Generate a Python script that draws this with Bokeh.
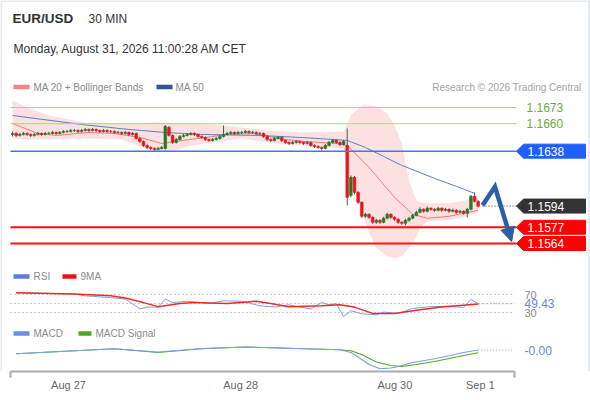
from bokeh.plotting import figure
from bokeh.models import Range1d, LinearAxis, FixedTicker, ColumnDataSource, Arrow, NormalHead, Label
from bokeh.core.properties import value
from bokeh.embed import file_html
from bokeh.resources import INLINE

# ---------------- data ----------------
symbol = "EUR/USD"
interval = "30 MIN"
timestamp = "Monday, August 31, 2026 11:00:28 AM CET"
credit = "Research \u00a9 2026 Trading Central"

opens = [
    1.16514, 1.16522, 1.16506, 1.16514, 1.16522, 1.16514, 1.16506, 1.16514, 1.16522, 1.16514,
    1.16522, 1.16522, 1.16530, 1.16522, 1.16530, 1.16538, 1.16538, 1.16546, 1.16546, 1.16538,
    1.16546, 1.16554, 1.16546, 1.16554, 1.16546, 1.16538, 1.16546, 1.16538, 1.16538, 1.16530,
    1.16530, 1.16522, 1.16530, 1.16514, 1.16522, 1.16482, 1.16458, 1.16426, 1.16410, 1.16402,
    1.16394, 1.16402, 1.16402, 1.16570, 1.16506, 1.16450, 1.16474, 1.16498, 1.16506, 1.16514,
    1.16522, 1.16514, 1.16498, 1.16490, 1.16474, 1.16466, 1.16474, 1.16482, 1.16498, 1.16514,
    1.16522, 1.16530, 1.16522, 1.16530, 1.16530, 1.16538, 1.16530, 1.16530, 1.16522, 1.16522,
    1.16498, 1.16474, 1.16466, 1.16482, 1.16490, 1.16466, 1.16450, 1.16442, 1.16450, 1.16458,
    1.16450, 1.16442, 1.16450, 1.16426, 1.16418, 1.16410, 1.16402, 1.16426, 1.16450, 1.16466,
    1.16450, 1.16434, 1.16426, 1.16026, 1.16170, 1.16050, 1.15970, 1.15858, 1.15874, 1.15850,
    1.15810, 1.15826, 1.15810, 1.15842, 1.15874, 1.15850, 1.15834, 1.15810, 1.15802, 1.15826,
    1.15842, 1.15866, 1.15890, 1.15914, 1.15898, 1.15922, 1.15914, 1.15906, 1.15922, 1.15906,
    1.15914, 1.15898, 1.15906, 1.15890, 1.15898, 1.15882, 1.15914, 1.16018, 1.15978,
]
highs = [
    1.16538, 1.16534, 1.16526, 1.16534, 1.16530, 1.16522, 1.16526, 1.16534, 1.16530, 1.16534,
    1.16534, 1.16542, 1.16538, 1.16542, 1.16550, 1.16550, 1.16558, 1.16558, 1.16554, 1.16558,
    1.16566, 1.16562, 1.16566, 1.16562, 1.16554, 1.16558, 1.16554, 1.16550, 1.16546, 1.16542,
    1.16538, 1.16542, 1.16538, 1.16534, 1.16530, 1.16490, 1.16466, 1.16434, 1.16418, 1.16410,
    1.16414, 1.16422, 1.16590, 1.16582, 1.16514, 1.16486, 1.16510, 1.16518, 1.16526, 1.16534,
    1.16530, 1.16522, 1.16506, 1.16498, 1.16482, 1.16486, 1.16494, 1.16510, 1.16586, 1.16534,
    1.16542, 1.16538, 1.16542, 1.16542, 1.16550, 1.16546, 1.16542, 1.16538, 1.16534, 1.16530,
    1.16506, 1.16482, 1.16494, 1.16502, 1.16498, 1.16474, 1.16458, 1.16462, 1.16470, 1.16466,
    1.16458, 1.16462, 1.16458, 1.16434, 1.16426, 1.16418, 1.16438, 1.16462, 1.16478, 1.16474,
    1.16458, 1.16470, 1.16562, 1.16186, 1.16182, 1.16058, 1.15978, 1.15886, 1.15882, 1.15858,
    1.15838, 1.15834, 1.15854, 1.15886, 1.15882, 1.15858, 1.15842, 1.15818, 1.15838, 1.15854,
    1.15878, 1.15902, 1.15930, 1.15922, 1.15938, 1.15930, 1.15922, 1.15934, 1.15930, 1.15926,
    1.15922, 1.15918, 1.15914, 1.15910, 1.15906, 1.15926, 1.16030, 1.16050, 1.15986,
]
lows = [
    1.16498, 1.16494, 1.16498, 1.16506, 1.16502, 1.16494, 1.16498, 1.16506, 1.16502, 1.16506,
    1.16510, 1.16514, 1.16510, 1.16514, 1.16522, 1.16526, 1.16530, 1.16534, 1.16526, 1.16530,
    1.16538, 1.16534, 1.16538, 1.16534, 1.16526, 1.16530, 1.16526, 1.16526, 1.16518, 1.16518,
    1.16510, 1.16514, 1.16502, 1.16506, 1.16474, 1.16446, 1.16414, 1.16398, 1.16390, 1.16378,
    1.16386, 1.16394, 1.16394, 1.16498, 1.16438, 1.16442, 1.16466, 1.16490, 1.16498, 1.16506,
    1.16502, 1.16486, 1.16478, 1.16462, 1.16454, 1.16458, 1.16466, 1.16474, 1.16490, 1.16506,
    1.16514, 1.16510, 1.16514, 1.16518, 1.16522, 1.16518, 1.16518, 1.16510, 1.16510, 1.16486,
    1.16462, 1.16454, 1.16458, 1.16474, 1.16454, 1.16438, 1.16430, 1.16434, 1.16442, 1.16438,
    1.16430, 1.16434, 1.16414, 1.16406, 1.16398, 1.16386, 1.16394, 1.16418, 1.16442, 1.16438,
    1.16422, 1.16426, 1.15946, 1.16010, 1.16034, 1.15958, 1.15846, 1.15846, 1.15838, 1.15798,
    1.15798, 1.15798, 1.15802, 1.15834, 1.15838, 1.15822, 1.15798, 1.15790, 1.15786, 1.15814,
    1.15834, 1.15858, 1.15882, 1.15886, 1.15890, 1.15902, 1.15894, 1.15898, 1.15894, 1.15898,
    1.15886, 1.15890, 1.15878, 1.15882, 1.15870, 1.15850, 1.15906, 1.15970, 1.15930,
]
closes = [
    1.16522, 1.16506, 1.16514, 1.16522, 1.16514, 1.16506, 1.16514, 1.16522, 1.16514, 1.16522,
    1.16522, 1.16530, 1.16522, 1.16530, 1.16538, 1.16538, 1.16546, 1.16546, 1.16538, 1.16546,
    1.16554, 1.16546, 1.16554, 1.16546, 1.16538, 1.16546, 1.16538, 1.16538, 1.16530, 1.16530,
    1.16522, 1.16530, 1.16514, 1.16522, 1.16482, 1.16458, 1.16426, 1.16410, 1.16402, 1.16394,
    1.16402, 1.16410, 1.16578, 1.16506, 1.16450, 1.16474, 1.16498, 1.16506, 1.16514, 1.16522,
    1.16514, 1.16498, 1.16490, 1.16474, 1.16466, 1.16474, 1.16482, 1.16498, 1.16514, 1.16522,
    1.16530, 1.16522, 1.16530, 1.16530, 1.16538, 1.16530, 1.16530, 1.16522, 1.16522, 1.16498,
    1.16474, 1.16466, 1.16482, 1.16490, 1.16466, 1.16450, 1.16442, 1.16450, 1.16458, 1.16450,
    1.16442, 1.16450, 1.16426, 1.16418, 1.16410, 1.16402, 1.16426, 1.16450, 1.16466, 1.16450,
    1.16434, 1.16458, 1.16010, 1.16170, 1.16050, 1.15970, 1.15858, 1.15874, 1.15850, 1.15810,
    1.15826, 1.15810, 1.15842, 1.15874, 1.15850, 1.15834, 1.15810, 1.15802, 1.15826, 1.15842,
    1.15866, 1.15890, 1.15914, 1.15898, 1.15922, 1.15914, 1.15906, 1.15922, 1.15906, 1.15914,
    1.15898, 1.15906, 1.15890, 1.15898, 1.15882, 1.15914, 1.16018, 1.15978, 1.15938,
]

ma20_idx = [0, 7, 12, 21, 28, 35, 41, 51, 59, 66, 75, 80, 89, 92, 98, 105, 110, 114, 120, 128]
ma20_val = [1.16602, 1.16522, 1.16506, 1.16530, 1.16522, 1.16490, 1.16442, 1.16482, 1.16514, 1.16522,
            1.16474, 1.16458, 1.16442, 1.16426, 1.16250, 1.16010, 1.15874, 1.15842, 1.15858, 1.15906]

ma50_idx = [0, 19, 32, 42, 52, 68, 79, 88, 92, 97, 102, 107, 116, 122, 127]
ma50_val = [1.16666, 1.16594, 1.16554, 1.16530, 1.16514, 1.16506, 1.16490, 1.16474, 1.16466, 1.16410,
            1.16338, 1.16266, 1.16162, 1.16098, 1.16042]

bb_idx = [0, 4, 10, 20, 30, 38, 43, 48, 55, 63, 70, 79, 91, 93, 96, 98, 100, 103, 105, 107, 109, 111,
          112, 114, 120, 125, 128]
bb_upper = [1.16786, 1.16730, 1.16666, 1.16610, 1.16602, 1.16610, 1.16610, 1.16602, 1.16594, 1.16570,
            1.16546, 1.16530, 1.16538, 1.16666, 1.16746, 1.16746, 1.16738, 1.16682, 1.16586, 1.16442,
            1.16146, 1.15986, 1.15970, 1.15962, 1.15962, 1.15986, 1.16010]
bb_lower = [1.16482, 1.16474, 1.16474, 1.16482, 1.16474, 1.16386, 1.16370, 1.16418, 1.16450, 1.16482,
            1.16450, 1.16426, 1.16402, 1.16146, 1.15906, 1.15730, 1.15602, 1.15538, 1.15522, 1.15538,
            1.15602, 1.15690, 1.15762, 1.15818, 1.15826, 1.15858, 1.15890]

resistance_levels = [1.1673, 1.1660]
tag_levels = [1.1638, 1.1594, 1.1577, 1.1564]
tag_colors = ["#1f5fff", "#333333", "#ff0000", "#ff0000"]
last_price = 1.1594

forecast_idx = [129.2, 132.6, 137.2]
forecast_val = [1.15946, 1.16095, 1.15655]

rsi_idx = [1, 17, 20, 27, 31, 35, 37, 40, 42, 44, 48, 54, 58, 63, 68, 72, 76, 79, 82, 85,
           87, 89, 91, 93, 96, 100, 102, 106, 110, 115, 120, 124, 126, 128]
rsi_val = [74, 71, 67, 63, 60, 38, 42, 42, 60, 52, 55, 50, 56, 55, 45, 42, 47, 42, 38, 52,
           47, 50, 21, 34, 27, 25, 31, 28, 39, 43, 44, 41, 59, 49.43]
rsi_ma_idx = [1, 17, 27, 31, 36, 40, 46, 50, 59, 67, 71, 76, 85, 90, 94, 99, 105, 112, 118, 128]
rsi_ma_val = [74, 71, 67, 62, 52, 43, 50, 52, 50, 55, 50, 43, 45, 47, 42, 28, 28, 36, 42, 49]
rsi_levels = [70, 50, 30]

macd_idx = [1, 28, 40, 52, 64, 78, 90, 93, 95, 98, 101, 104, 106, 110, 116, 120, 124, 128]
macd_val = [-0.00017, 0.00003, -0.00010, 0.00004, 0.00010, 0.00004, -0.00001, -0.00012, -0.00030,
            -0.00060, -0.00077, -0.00074, -0.00068, -0.00052, -0.00037, -0.00025, -0.00012, -0.00002]
signal_idx = [1, 28, 40, 52, 64, 78, 90, 93, 96, 100, 104, 107, 111, 116, 122, 128]
signal_val = [-0.00017, 0.00003, -0.00012, 0.00003, 0.00010, 0.00004, -0.00001, -0.00005, -0.00020,
              -0.00050, -0.00064, -0.00068, -0.00060, -0.00048, -0.00030, -0.00013]

tick_pos = [15.4, 62.7, 105.1, 128.6]
tick_labels = ["Aug 27", "Aug 28", "Aug 30", "Sep 1"]

# ---------------- layout (pixel geometry) ----------------
FONT = "Liberation Sans"
W, H = 590, 400
FR_L, FR_R, FR_T, FR_B = 0, 590, 0, 371
X0_PX, X_STEP = 12.0, (477.7 - 12.0) / 128


def fit(v1, p1, v2, p2, lo, hi):
    k = (v2 - v1) / (p2 - p1)
    return Range1d(start=v1 + (lo - p1) * k, end=v1 + (hi - p1) * k)


def idx_at(px):
    return (px - X0_PX) / X_STEP


PPX = (243 - 107) / (1.1673 - 1.1564)   # pixels per price unit

p = figure(width=W, height=H, output_backend="svg", toolbar_location=None,
           x_range=fit(0, X0_PX, 128, X0_PX + 128 * X_STEP, FR_L, FR_R),
           y_range=fit(1.1673, 107, 1.1564, 243, FR_B, FR_T),
           x_axis_location=None, y_axis_location=None,
           min_border_left=0, min_border_right=0, min_border_top=0, min_border_bottom=H - FR_B,
           outline_line_color=None, background_fill_color="white", border_fill_color="white")
p.xgrid.grid_line_color = None
p.ygrid.grid_line_color = None
p.extra_x_ranges = {"px": Range1d(FR_L, FR_R)}
p.extra_y_ranges = {
    "px": Range1d(FR_B, FR_T),
    "rsi": fit(70, 294, 30, 312, FR_B, FR_T),
    "macd": fit(0.0, 349, -0.0007, 366.5, FR_B, FR_T),
}

ax_start, ax_end = idx_at(10), idx_at(514)
axis = LinearAxis(ticker=FixedTicker(ticks=tick_pos, minor_ticks=[ax_start + 0.05, ax_end - 0.05]),
                  bounds=(ax_start, ax_end),
                  major_label_overrides=dict(zip(tick_pos, tick_labels)))
axis.axis_line_color = "#aaaaaa"
axis.axis_line_width = 2
axis.major_tick_line_color = None
axis.major_tick_out = 0
axis.major_tick_in = 0
axis.minor_tick_line_color = "#aaaaaa"
axis.minor_tick_line_width = 2
axis.minor_tick_out = 6
axis.minor_tick_in = 0
axis.major_label_standoff = 1
axis.major_label_text_font = FONT
axis.major_label_text_font_size = "11px"
axis.major_label_text_color = "#666666"
p.add_layout(axis, "below")

PXR = dict(x_range_name="px", y_range_name="px")


def txt(x, y, s, size, color, bold=False, align="left"):
    p.text(x=[x], y=[y], text=[s], text_font=value(FONT), text_font_size=value(size),
           text_font_style="bold" if bold else "normal", text_color=color,
           text_align=align, text_baseline="middle", **PXR)


# frame border (light)
p.segment(x0=[0.5, 0, 588.5], x1=[0.5, 590, 588.5], y0=[0, 0.5, 0], y1=[371, 0.5, 371],
          line_color="#e6ecf0", line_width=2, **PXR)

# header
txt(12, 18, symbol, "13.5px", "#333333", bold=True)
txt(88, 18, interval, "12px", "#333333")
txt(13, 48, timestamp, "12px", "#333333")


# legends
def swatch(x0, x1, y, color):
    p.quad(left=[x0], right=[x1], top=[y - 2.2], bottom=[y + 2.2], fill_color=color,
           line_color=None, **PXR)


swatch(13, 29, 86.5, "#ff8080")
txt(33, 86.5, "MA 20 + Bollinger Bands", "10px", "#8a8a8a")
swatch(156, 172, 86.5, "#2f5597")
txt(175, 86.5, "MA 50", "10px", "#8a8a8a")
txt(581, 86.5, credit, "10px", "#a5a5a5", align="right")
swatch(13, 29, 276, "#5b7fe0")
txt(33, 276, "RSI", "10px", "#8a8a8a")
swatch(62, 76, 276, "#ee1111")
txt(80, 276, "9MA", "10px", "#8a8a8a")
swatch(13, 29, 333, "#6b8ee8")
txt(33, 333, "MACD", "10px", "#8a8a8a")
swatch(78, 91, 333, "#4fa81c")
txt(95, 333, "MACD Signal", "10px", "#8a8a8a")

# bollinger band, moving averages
p.varea(x=bb_idx, y1=bb_lower, y2=bb_upper, fill_color="#fde1e1", fill_alpha=1.0)
p.line(ma20_idx, ma20_val, line_color="#f07a7a", line_width=1)
p.line(ma50_idx, ma50_val, line_color="#5b7fc8", line_width=1)

# candles
n = len(closes)
src = ColumnDataSource(dict(
    x=list(range(n)), h=highs, l=lows,
    top=[max(o, c) for o, c in zip(opens, closes)],
    bot=[min(o, c) for o, c in zip(opens, closes)],
    color=["#237a23" if c >= o else "#e8141b" for o, c in zip(opens, closes)],
))
p.segment(x0="x", y0="l", x1="x", y1="h", source=src, line_color="#555555", line_width=1)
p.vbar(x="x", width=0.74, top="top", bottom="bot", fill_color="color", line_color="color",
       line_width=0.6, source=src)

# horizontal levels
p.segment(x0=[10] * 2, x1=[516] * 2, y0=resistance_levels, y1=resistance_levels,
          line_color="#a8d48a", line_width=1, x_range_name="px")
for lv in resistance_levels:
    p.text(x=[526], y=[lv], text=[f"{lv:.4f}"], text_font=value(FONT), text_font_size=value("12px"),
           text_color="#6aab3a", text_baseline="middle", x_range_name="px")
p.segment(x0=[10], x1=[516], y0=[tag_levels[0]], y1=[tag_levels[0]], line_color="#3c78f0",
          line_width=1.5, x_range_name="px")
p.segment(x0=[10] * 2, x1=[516] * 2, y0=tag_levels[2:], y1=tag_levels[2:], line_color="#ff1010",
          line_width=2, x_range_name="px")
p.segment(x0=[idx_at(482)], x1=[idx_at(516)], y0=[last_price], y1=[last_price],
          line_color="#333333", line_width=1, line_dash="1 2")

half = 7 / PPX
p.patches(xs=[[516, 523, 585, 585, 523] for _ in tag_levels],
          ys=[[lv, lv + half, lv + half, lv - half, lv - half] for lv in tag_levels],
          fill_color=tag_colors, line_color=tag_colors, line_width=1, x_range_name="px")
for lv in tag_levels:
    p.text(x=[527], y=[lv], text=[f"{lv:.4f}"], text_font=value(FONT), text_font_size=value("12px"),
           text_color="white", text_baseline="middle", x_range_name="px")

# forecast arrow
ARW = "#2b5ea8"
fx, fy = forecast_idx, forecast_val
shrink = 0.75
p.line([fx[0], fx[1], fx[1] + (fx[2] - fx[1]) * shrink], [fy[0], fy[1], fy[1] + (fy[2] - fy[1]) * shrink],
       line_color=ARW, line_width=4.5, line_join="miter")
p.add_layout(Arrow(end=NormalHead(size=14, fill_color=ARW, line_color=ARW),
                   x_start=fx[1], y_start=fy[1], x_end=fx[2], y_end=fy[2],
                   line_alpha=0, line_width=1))

# RSI panel
p.segment(x0=[10] * 3, x1=[514] * 3, y0=rsi_levels, y1=rsi_levels, line_color="#9a9a9a",
          line_width=1, line_dash="1 3", x_range_name="px", y_range_name="rsi")
p.line(rsi_idx, rsi_val, line_color="#7f9ee8", line_width=1, y_range_name="rsi")
p.line(rsi_ma_idx, rsi_ma_val, line_color="#ee2a2a", line_width=1.5, y_range_name="rsi")
p.segment(x0=[rsi_idx[-1]], x1=[idx_at(514)], y0=[rsi_val[-1]], y1=[rsi_val[-1]],
          line_color="#7f9ee8", line_width=1, line_dash="1 2", y_range_name="rsi")
for lv in (70, 30):
    p.add_layout(Label(x=524, y=lv, text=str(lv), text_font=FONT, text_font_size="11px",
                       text_color="#888888", text_baseline="middle",
                       x_range_name="px", y_range_name="rsi"))
p.add_layout(Label(x=524, y=rsi_val[-1], text=f"{rsi_val[-1]:.2f}", text_font=FONT,
                   text_font_size="12px", text_color="#6688dd", text_baseline="middle",
                   background_fill_color="white", x_range_name="px", y_range_name="rsi"))

# MACD panel
p.line(signal_idx, signal_val, line_color="#52a825", line_width=1.2, y_range_name="macd")
p.line(macd_idx, macd_val, line_color="#7f9ee8", line_width=1.2, y_range_name="macd")
p.segment(x0=[macd_idx[-1]], x1=[idx_at(512)], y0=[macd_val[-1]], y1=[macd_val[-1]],
          line_color="#7f9ee8", line_width=1, line_dash="1 2", y_range_name="macd")
p.add_layout(Label(x=524, y=macd_val[-1], text=f"{macd_val[-1]:.2f}", text_font=FONT,
                   text_font_size="12px", text_color="#6688dd", text_baseline="middle",
                   x_range_name="px", y_range_name="macd"))

open("out.html", "w").write(file_html(p, INLINE))
